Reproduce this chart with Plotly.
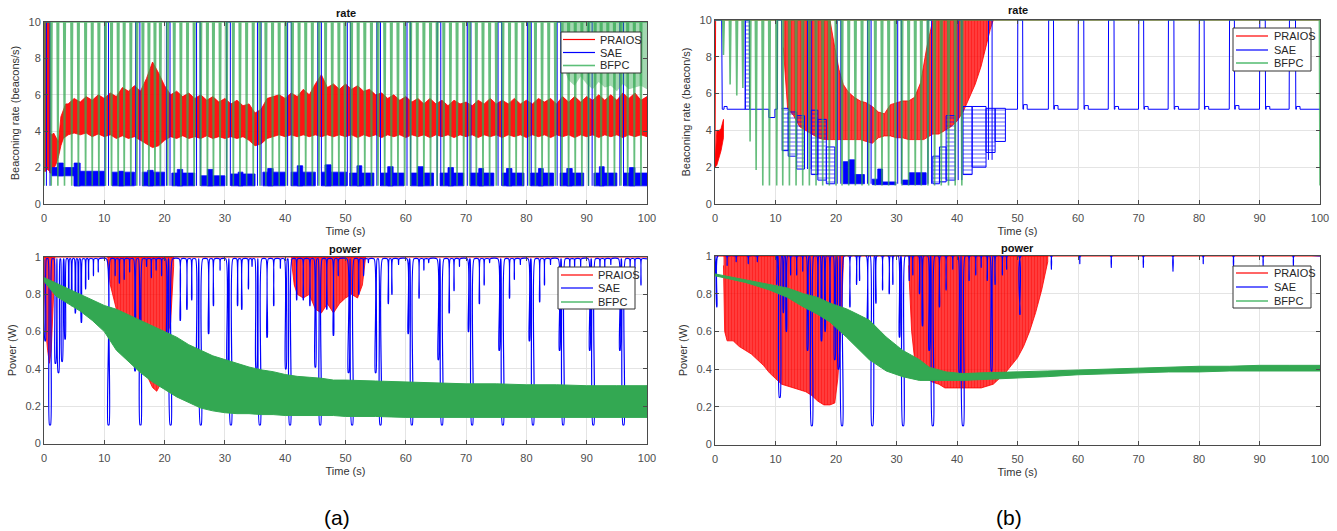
import plotly.graph_objects as go

W, H = 1337, 531
FONT = "Liberation Sans, Arial, Helvetica, sans-serif"
RED = "#ff0000"
BLUE = "#0000ff"
GREEN = "#33a852"
GREEN_LINE = "rgba(51,168,82,0.75)"

# ======================= DATA =======================
X_TICKS = [0, 10, 20, 30, 40, 50, 60, 70, 80, 90, 100]
RATE_TICKS = [0, 2, 4, 6, 8, 10]
POWER_TICKS = [0, 0.2, 0.4, 0.6, 0.8, 1]
POWER_TICK_TEXT = ["0", "0.2", "0.4", "0.6", "0.8", "1"]
SERIES = ["PRAIOS", "SAE", "BFPC"]

# ---------- (a) rate ----------
praios_ra_t = [0.0, 0.3, 0.6, 0.9, 1.0, 1.3, 1.6, 2.0, 2.4, 2.8, 3.2, 3.6] + list(range(4, 101))
praios_ra_hi = [10, 10, 10, 10, 3.9, 3.8, 3.9, 3.6, 3.4, 4.8, 5.2, 5.5,
                5.5, 5.8, 5.6, 5.9, 5.7, 6.0, 5.8, 6.1, 5.9, 6.4, 6.2, 6.5, 6.2, 6.9, 7.8, 7.2, 6.5,
                6.0, 6.2, 5.9, 6.1, 5.8, 6.0, 5.7, 5.9, 5.6, 5.8, 5.5, 5.7, 5.4, 5.5, 5.0, 5.2, 5.8,
                5.9, 6.0, 5.8, 6.1, 5.9, 6.3, 6.0, 6.6, 7.1, 6.4, 6.6, 6.3, 6.6, 6.3, 6.5, 6.2, 6.3,
                6.0, 6.1, 5.8, 6.0, 5.7, 5.9, 5.6, 5.8, 5.5, 5.8, 5.5, 5.7, 5.4, 5.7, 5.5, 5.6, 5.4,
                5.7, 5.5, 5.8, 5.5, 5.7, 5.5, 5.8, 5.5, 5.7, 5.5, 5.8, 5.6, 5.8, 5.5, 5.9, 5.6, 5.9,
                5.6, 5.9, 5.7, 6.0, 5.7, 6.0, 5.7, 6.1, 5.8, 6.1, 5.7, 5.9]
praios_ra_lo = [1.8, 1.8, 1.9, 1.8, 1.7, 1.7, 1.9, 2.2, 2.6, 3.2, 3.6, 3.7,
                3.8, 3.9, 3.8, 3.9, 3.7, 3.85, 3.7, 3.8, 3.6, 3.75, 3.6, 3.7, 3.5, 3.3, 3.1, 3.2, 3.5,
                3.7, 3.6, 3.75, 3.6, 3.7, 3.6, 3.75, 3.6, 3.7, 3.6, 3.7, 3.6, 3.7, 3.5, 3.2, 3.3, 3.6,
                3.7, 3.8, 3.7, 3.8, 3.7, 3.8, 3.7, 3.8, 3.7, 3.8, 3.7, 3.8, 3.7, 3.8, 3.65, 3.8, 3.7,
                3.8, 3.65, 3.8, 3.7, 3.8, 3.65, 3.8, 3.7, 3.8, 3.65, 3.8, 3.7, 3.8, 3.65, 3.8, 3.7, 3.8,
                3.65, 3.8, 3.7, 3.8, 3.65, 3.8, 3.7, 3.8, 3.65, 3.8, 3.7, 3.8, 3.65, 3.8, 3.7, 3.8,
                3.65, 3.8, 3.7, 3.8, 3.65, 3.8, 3.7, 3.8, 3.65, 3.8, 3.7, 3.8, 3.7]

sae_ra_blk_t0 = [1.3, 5.0, 11.3, 16.3, 21.2, 26.0, 31.0, 36.3, 41.0, 46.0, 50.7, 55.8, 60.8, 65.7, 70.7, 76.0, 80.7, 85.6, 91.2, 96.1]
sae_ra_blk_t1 = [5.0, 10.0, 15.0, 20.0, 25.0, 30.0, 35.0, 40.0, 45.0, 50.2, 54.7, 59.7, 64.6, 69.6, 74.6, 79.6, 84.5, 89.5, 95.0, 100.0]
sae_ra_blk_lo = [1.55, 1.0, 1.0, 1.0, 1.0, 1.0, 1.0, 1.0, 1.0, 1.0, 1.0, 1.0, 1.0, 1.0, 1.0, 1.0, 1.0, 1.0, 1.0, 1.0]
sae_ra_blk_hi = [2.0, 1.8, 1.75, 1.75, 1.7, 1.55, 1.65, 1.75, 1.75, 1.75, 1.7, 1.7, 1.7, 1.7, 1.7, 1.7, 1.7, 1.7, 1.7, 1.7]
sae_ra_bump_t0 = [2.2, 5.0, 12.4, 17.2, 22.1, 27.1, 32.2, 37.1, 42.0, 46.6, 51.9, 57.0, 62.0, 67.0, 72.1, 76.7, 82.0, 86.7, 92.1, 97.1]
sae_ra_bump_t1 = [3.2, 6.0, 13.2, 18.1, 23.0, 28.0, 33.0, 38.0, 42.9, 47.6, 52.7, 57.9, 62.9, 67.9, 72.9, 77.6, 82.8, 87.6, 92.9, 98.0]
sae_ra_bump_lo = [1.55, 1.0, 1.0, 1.0, 1.0, 1.0, 1.0, 1.0, 1.0, 1.0, 1.0, 1.0, 1.0, 1.0, 1.0, 1.0, 1.0, 1.0, 1.0, 1.0]
sae_ra_bump_hi = [2.25, 2.25, 1.8, 1.85, 1.9, 1.9, 1.75, 1.95, 2.1, 2.15, 2.1, 2.05, 2.05, 2.0, 1.95, 1.95, 1.95, 1.95, 2.05, 2.0]
sae_ra_spike_t0 = [0.4, 10.1, 15.2, 20.3, 25.3, 30.3, 35.4, 40.4, 45.4, 50.3, 55.2, 60.2, 65.2, 70.2, 75.3, 80.2, 85.1, 90.3, 95.5]
sae_ra_spike_t1 = [1.0, 10.7, 15.9, 20.9, 25.9, 30.9, 36.0, 41.0, 46.0, 50.8, 55.8, 60.8, 65.8, 70.8, 75.9, 80.8, 85.7, 90.9, 96.1]

bfpc_ra_dip_t = [0.0, 1.2, 2.3, 3.4, 4.6, 5.7, 6.9, 8.0, 9.1, 10.2, 11.2, 12.3, 13.3, 14.4, 15.4, 16.4, 17.4,
                 18.4, 19.3, 20.5, 21.6, 22.7, 23.8, 24.9, 26.0, 27.1, 28.1, 29.2, 30.3, 31.4, 32.5, 33.6,
                 34.7, 35.8, 36.8, 37.9, 39.0, 40.1, 41.2, 42.3, 43.4, 44.5, 45.6, 46.7, 47.8, 48.9, 49.9,
                 51.0, 52.1, 53.2, 54.3, 55.4, 56.5, 57.6, 58.7, 59.8, 60.8, 61.9, 63.0, 64.1, 65.2, 66.3,
                 67.4, 68.5, 69.6, 70.6, 71.7, 72.8, 73.9, 75.0, 76.1, 77.2, 78.3, 79.4, 80.5, 81.5, 82.6,
                 83.7, 84.8, 85.9, 87.0, 88.1, 89.2, 90.3, 91.4, 92.4, 93.5, 94.6, 95.7, 96.8, 97.9, 99.0]
bfpc_ra_dip_v = [1.0] * len(bfpc_ra_dip_t)
bfpc_ra_band_t = [86, 87, 88, 89, 90, 91, 92, 93, 94, 95, 96, 97, 98, 99, 100]
bfpc_ra_band_lo = [7.6, 6.8, 6.5, 7.0, 6.6, 6.3, 6.7, 6.4, 6.5, 6.2, 6.6, 6.3, 6.4, 6.5, 6.3]

# ---------- (a) power ----------
praios_pa_r1_t = [0.0, 0.3, 0.6, 0.9, 1.2, 1.5, 1.8]
praios_pa_r1_lo = [0.9, 0.6, 0.5, 0.43, 0.5, 0.7, 0.95]
praios_pa_r2_t = [10.5, 11, 12, 13, 14, 15, 16, 17, 18, 18.7, 19.5, 20, 20.5, 21, 21.5]
praios_pa_r2_lo = [0.99, 0.85, 0.72, 0.62, 0.55, 0.48, 0.42, 0.37, 0.3, 0.28, 0.33, 0.5, 0.58, 0.65, 0.95]
praios_pa_r3_t = [41, 41.5, 42, 43, 44, 45, 46, 47, 48, 49, 50, 51, 52, 52.8, 53.3]
praios_pa_r3_lo = [0.99, 0.85, 0.8, 0.78, 0.8, 0.72, 0.7, 0.75, 0.7, 0.75, 0.78, 0.8, 0.78, 0.85, 0.99]

sae_pa_dip_t = [0.2, 1.0, 1.9, 2.4, 3.0, 3.5, 4.1, 4.6, 5.2, 5.7, 6.2, 6.9, 7.4, 8.2, 9.0, 10.7, 11.8, 12.5,
                13.3, 14.2, 15.1, 16.0, 17.0, 17.8, 18.6, 19.5, 20.4, 21.0, 22.6, 23.7, 24.5, 25.4, 26.0,
                27.3, 28.1, 29.2, 30.4, 31.0, 32.1, 32.8, 33.9, 34.5, 35.2, 35.8, 37.0, 38.1, 39.2, 40.1,
                40.8, 41.9, 43.0, 44.1, 45.0, 45.8, 46.9, 48.0, 48.8, 50.5, 51.1, 52.2, 53.0, 53.8, 55.0,
                55.8, 57.1, 57.7, 58.8, 60.4, 61.0, 62.2, 63.0, 63.8, 65.4, 66.0, 67.2, 68.0, 68.9, 70.4,
                71.0, 72.2, 73.0, 73.9, 75.5, 76.1, 77.2, 78.0, 79.0, 80.5, 81.1, 82.2, 83.0, 84.0, 85.5,
                86.1, 87.2, 88.0, 89.0, 90.5, 91.1, 92.2, 93.0, 94.0, 95.5, 96.1, 97.2, 98.0, 99.0]
sae_pa_dip_v = [0.55, 0.1, 0.43, 0.38, 0.44, 0.56, 0.8, 0.74, 0.7, 0.75, 0.65, 0.83, 0.88, 0.9, 0.92, 0.1, 0.9, 0.86,
                0.88, 0.92, 0.39, 0.1, 0.95, 0.89, 0.93, 0.9, 0.45, 0.1, 0.66, 0.72, 0.77, 0.38, 0.1,
                0.59, 0.74, 0.93, 0.42, 0.1, 0.74, 0.72, 0.83, 0.95, 0.4, 0.1, 0.57, 0.74, 0.94, 0.4,
                0.1, 0.77, 0.77, 0.74, 0.41, 0.1, 0.72, 0.58, 0.9, 0.38, 0.1, 0.8, 0.9, 0.97, 0.38,
                0.1, 0.75, 0.8, 0.96, 0.59, 0.1, 0.78, 0.93, 0.97, 0.45, 0.1, 0.7, 0.82, 0.95, 0.6,
                0.1, 0.75, 0.85, 0.97, 0.5, 0.1, 0.78, 0.88, 0.96, 0.55, 0.1, 0.76, 0.85, 0.96, 0.5,
                0.1, 0.9, 0.95, 0.95, 0.5, 0.1, 0.9, 0.93, 0.96, 0.5, 0.1, 0.88, 0.94, 0.85]

bfpc_pa_t = [0, 2, 4, 6, 8, 10, 12, 14, 16, 18, 20, 22, 24, 26, 28, 30, 32, 34, 36, 38, 40, 42, 44, 46, 48,
             50, 55, 60, 65, 70, 75, 80, 85, 90, 95, 100]
bfpc_pa_hi = [0.89, 0.86, 0.83, 0.80, 0.77, 0.74, 0.72, 0.69, 0.66, 0.63, 0.60, 0.57, 0.53, 0.50, 0.47, 0.45,
              0.43, 0.41, 0.395, 0.385, 0.37, 0.36, 0.355, 0.35, 0.34, 0.34, 0.335, 0.33, 0.325, 0.32, 0.32,
              0.315, 0.315, 0.31, 0.31, 0.31]
bfpc_pa_lo = [0.87, 0.79, 0.75, 0.71, 0.66, 0.60, 0.50, 0.44, 0.38, 0.33, 0.29, 0.25, 0.22, 0.19, 0.175, 0.165,
              0.16, 0.16, 0.155, 0.155, 0.15, 0.15, 0.15, 0.15, 0.15, 0.145, 0.145, 0.14, 0.14, 0.14, 0.14,
              0.14, 0.14, 0.14, 0.14, 0.14]

# ---------- (b) rate ----------
praios_rb0_t = [0.0, 0.3, 0.7, 1.0, 1.4]
praios_rb0_lo = [2.0, 2.1, 2.5, 2.9, 3.6]
praios_rb0_hi = [2.2, 4.0, 4.0, 4.1, 4.6]
praios_rb_line_t = [0.0, 0.1, 100.0]
praios_rb_line_v = [2.0, 10.0, 10.0]
praios_rb_t = [11.3, 12, 13, 14, 15, 16, 17, 18, 19, 19.8, 20.5, 21.2, 22, 23, 24, 25, 26, 27, 28, 29, 30,
               31, 32, 33, 34, 34.5, 35, 36, 37, 38, 39, 40, 41, 42, 43, 44, 45, 45.5, 46]
praios_rb_hi = [10, 10, 10, 10, 10, 10, 10, 10, 10, 8.5, 7.3, 6.5, 6.1, 5.8, 5.6, 5.5, 5.3, 5.0, 4.9, 5.4, 5.5,
                5.6, 5.6, 5.8, 6.6, 7.5, 8.5, 10, 10, 10, 10, 10, 10, 10, 10, 10, 10, 10, 10]
praios_rb_lo = [8.5, 5.2, 4.8, 4.2, 4.0, 3.8, 3.6, 3.5, 3.5, 3.5, 3.5, 3.5, 3.5, 3.5, 3.5, 3.4, 3.3, 3.6, 3.7, 3.7, 3.6,
                3.6, 3.5, 3.5, 3.5, 3.5, 3.6, 3.8, 3.8, 4.0, 4.2, 4.5, 5.0, 5.7, 6.5, 7.5, 8.8, 9.5, 10]

sae_rb_line_t = [0.0, 1.1, 1.2, 1.5, 1.5, 2.0, 2.0, 5.0, 5.0, 5.7, 5.7, 8.9, 8.9, 9.9, 9.9, 10.3, 10.3, 11.0, 11.1]
sae_rb_line_v = [10, 10, 5.15, 5.15, 5.3, 5.3, 5.15, 5.15, 10, 10, 5.15, 5.15, 4.7, 4.7, 5.15, 5.15, 10, 10, 5.15]
sae_rb_ladder_t0 = [5.0, 11.1, 12.1, 13.5, 15.9, 17.0, 18.4, 36.0, 37.1, 38.2, 41.0, 42.5, 44.8, 46.3]
sae_rb_ladder_t1 = [5.7, 12.1, 13.5, 14.8, 17.0, 18.4, 19.8, 37.1, 38.2, 39.7, 42.5, 44.8, 46.3, 48.0]
sae_rb_ladder_lo = [5.15, 2.9, 2.6, 1.9, 1.6, 1.3, 1.1, 1.1, 1.2, 1.3, 1.6, 2.0, 2.8, 3.4]
sae_rb_ladder_hi = [10.0, 5.2, 5.0, 4.8, 5.1, 4.6, 3.1, 2.6, 3.1, 4.8, 5.3, 5.3, 5.2, 5.2]
sae_rb_solid_t0 = [21.2, 22.1, 23.1, 26.0, 26.9, 27.7, 31.0, 32.1]
sae_rb_solid_t1 = [22.1, 23.1, 24.7, 26.9, 27.7, 29.9, 32.1, 34.9]
sae_rb_solid_lo = [1.1, 1.1, 1.1, 1.05, 1.05, 1.05, 1.05, 1.05]
sae_rb_solid_hi = [2.3, 2.4, 1.6, 1.35, 1.9, 1.2, 1.3, 1.7]
sae_rb_spike_t0 = [15.3, 20.2, 25.2, 30.2, 35.2, 40.2, 45.2]
sae_rb_spike_t1 = [15.9, 20.8, 25.8, 30.8, 35.8, 40.8, 45.8]
sae_rb_spike_lo = [1.9, 1.1, 1.1, 1.1, 1.1, 1.3, 2.4]
sae_rb_pulse_t0 = [50.0, 55.1, 60.0, 65.0, 70.0, 74.9, 80.0, 85.0, 90.0, 94.9]
sae_rb_pulse_t1 = [50.9, 56.0, 61.0, 66.0, 70.9, 75.9, 80.9, 85.9, 91.0, 96.0]
sae_rb_pulse_bump = [5.4, 5.35, 5.35, 5.3, 5.3, 5.3, 5.3, 5.35, 5.3, 5.3]
sae_rb_base = 5.15

bfpc_rb_dip_t = [1.4, 2.5, 3.6, 4.6, 5.8, 6.8, 7.9, 9.0, 10.2, 11.2, 12.3, 13.4, 14.5, 15.6, 16.7, 17.8, 18.9,
                 20.0, 21.0, 22.1, 23.2, 24.3, 25.4, 26.5, 27.6, 28.7, 29.8, 30.9, 32.0, 33.1, 34.1, 35.2,
                 36.3, 37.4, 38.6, 39.7, 40.8]
bfpc_rb_dip_v = [8.1, 6.5, 5.9, 6.3, 3.4, 1.85, 1.0, 1.0, 1.0, 1.0, 1.0, 1.0, 1.0, 1.0, 1.0, 1.0, 1.0,
                 1.0, 1.0, 1.0, 1.0, 1.0, 1.0, 1.0, 1.0, 1.0, 1.0, 1.0, 1.0, 1.0, 1.0, 1.0,
                 1.0, 1.0, 1.0, 1.0, 1.0]
bfpc_rb_end_t = [99.9, 100.0]
bfpc_rb_end_v = [10.0, 1.0]

# ---------- (b) power ----------
praios_pb_r1_t = [1.4, 1.6, 2, 3, 4, 5, 6, 7, 8, 9, 10, 11, 12, 13, 14, 15, 16, 17, 18, 19, 19.8, 20.3, 20.8, 21.2]
praios_pb_r1_lo = [0.95, 0.6, 0.55, 0.55, 0.52, 0.5, 0.48, 0.45, 0.42, 0.38, 0.35, 0.32, 0.31, 0.3, 0.29, 0.28,
                   0.26, 0.23, 0.21, 0.21, 0.22, 0.35, 0.6, 0.95]
praios_pb_r2_t = [32, 32.5, 33, 34, 35, 36, 37, 38, 39, 40, 42, 44, 46, 47, 48, 49, 50, 51, 52, 53, 54, 55]
praios_pb_r2_lo = [0.95, 0.6, 0.45, 0.4, 0.35, 0.33, 0.32, 0.3, 0.3, 0.3, 0.3, 0.3, 0.32, 0.35, 0.38, 0.42, 0.46,
                   0.52, 0.6, 0.7, 0.82, 0.97]

sae_pb_dip_t = [0.3, 2.0, 3.5, 5.5, 7.0, 10.2, 10.7, 11.3, 11.8, 12.5, 13.5, 14.5, 15.3, 16.0, 17.0, 17.6, 18.2,
                19.0, 19.8, 20.4, 21.0, 22.3, 23.4, 23.9, 25.2, 26.0, 26.6, 27.7, 28.8, 29.4, 30.5, 31.1, 32.1,
                32.7, 33.8, 34.3, 35.4, 36.0, 37.1, 38.2, 39.3, 40.4, 41.0, 42.0, 43.1, 44.0, 45.0, 45.7, 46.3,
                47.5, 48.2, 50.4, 55.6, 60.3, 65.5, 70.8, 75.7, 80.7, 85.7, 90.6, 95.6]
sae_pb_dip_v = [0.73, 0.95, 0.97, 0.96, 0.97, 0.85, 0.25, 0.7, 0.6, 0.9, 0.9, 0.92, 0.5, 0.1, 0.75, 0.55, 0.6,
                0.7, 0.45, 0.4, 0.1, 0.73, 0.85, 0.87, 0.6, 0.1, 0.75, 0.82, 0.8, 0.85, 0.57, 0.1, 0.87,
                0.9, 0.8, 0.63, 0.5, 0.1, 0.73, 0.82, 0.93, 0.38, 0.1, 0.87, 0.9, 0.94, 0.87, 0.39, 0.85,
                0.9, 0.93, 0.69, 0.93, 0.96, 0.94, 0.94, 0.92, 0.96, 0.94, 0.95, 0.95]
sae_pb_start = 0.9

bfpc_pb_t = [0, 5, 9, 12, 14.6, 17, 19, 21.7, 23, 25.5, 28.3, 31, 33.8, 35.4, 38.2, 40.9, 44, 48, 55, 60, 65,
             70, 75, 80, 85, 90, 95, 100]
bfpc_pb_hi = [0.905, 0.875, 0.85, 0.83, 0.8, 0.78, 0.75, 0.72, 0.7, 0.66, 0.57, 0.5, 0.45, 0.41, 0.385, 0.376,
              0.38, 0.385, 0.39, 0.395, 0.40, 0.405, 0.41, 0.415, 0.415, 0.42, 0.42, 0.42]
bfpc_pb_lo = [0.895, 0.86, 0.82, 0.78, 0.73, 0.69, 0.65, 0.57, 0.53, 0.45, 0.39, 0.36, 0.34, 0.34, 0.34, 0.34,
              0.345, 0.35, 0.36, 0.37, 0.375, 0.38, 0.385, 0.385, 0.39, 0.39, 0.39, 0.39]


# ======================= HELPERS =======================
def band_xy(t, lo, hi):
    assert len(t) == len(lo) == len(hi), (len(t), len(lo), len(hi))
    return list(t) + list(t)[::-1], list(hi) + list(lo)[::-1]


def bands_xy(regions, top):
    xs, ys = [], []
    for t, lo in regions:
        x, y = band_xy(t, lo, [top] * len(t))
        xs += x + [None]
        ys += y + [None]
    return xs, ys


def rects_xy(t0, t1, lo, hi):
    assert len(t0) == len(t1) == len(lo) == len(hi)
    xs, ys = [], []
    for a, b, l, h in zip(t0, t1, lo, hi):
        xs += [a, b, b, a, a, None]
        ys += [l, l, h, h, l, None]
    return xs, ys


def pulses_xy(t0, t1, lo, top):
    xs, ys = [], []
    for a, b, l in zip(t0, t1, lo):
        xs += [a, a, b, b, None]
        ys += [l, top, top, l, None]
    return xs, ys


def vdips_xy(times, depths, top, half=0.13, x_end=100.0):
    assert len(times) == len(depths)
    xs, ys = [], []
    for t, d in zip(times, depths):
        xs += [t - half, t, t + half]
        ys += [top, d, top]
    xs.append(x_end)
    ys.append(top)
    return xs, ys


def udips_xy(times, depths, top, start=None, x_end=100.0):
    assert len(times) == len(depths)
    xs, ys = [0.0], [top if start is None else start]
    for t, d in zip(times, depths):
        w = 0.08 + 0.28 * (1 - d)
        b = 0.1 * (1 - d)
        xs += [t - w, t - b, t + b, t + w]
        ys += [top, d, d, top]
    xs.append(x_end)
    ys.append(top)
    return xs, ys


fig = go.Figure()


def add(x, y, xa, ya, **kw):
    fig.add_trace(go.Scatter(x=x, y=y, xaxis=xa, yaxis=ya, mode="lines",
                             showlegend=False, hoverinfo="skip", **kw))


RED_PATTERN = dict(shape="|", fgcolor=RED, bgcolor="rgba(255,0,0,0.72)", size=3, solidity=0.55)

# ---------- (a) rate ----------
x, y = band_xy(praios_ra_t, praios_ra_lo, praios_ra_hi)
add(x, y, "x", "y", fill="toself", fillcolor="rgba(255,0,0,0.92)", line=dict(color=RED, width=0.8))
x, y = rects_xy(sae_ra_blk_t0, sae_ra_blk_t1, sae_ra_blk_lo, sae_ra_blk_hi)
add(x, y, "x", "y", fill="toself", fillcolor=BLUE, line=dict(color=BLUE, width=0.8))
x, y = rects_xy(sae_ra_bump_t0, sae_ra_bump_t1, sae_ra_bump_lo, sae_ra_bump_hi)
add(x, y, "x", "y", fill="toself", fillcolor=BLUE, line=dict(color=BLUE, width=0.8))
x, y = pulses_xy(sae_ra_spike_t0, sae_ra_spike_t1, [1.0] * len(sae_ra_spike_t0), 10)
add(x, y, "x", "y", line=dict(color=BLUE, width=1))
x, y = band_xy(bfpc_ra_band_t, bfpc_ra_band_lo, [10] * len(bfpc_ra_band_t))
add(x, y, "x", "y", fill="toself", fillcolor="rgba(51,168,82,0.45)", line=dict(width=0))
x, y = vdips_xy(bfpc_ra_dip_t, bfpc_ra_dip_v, 10)
add(x, y, "x", "y", line=dict(color=GREEN_LINE, width=1.6))

# ---------- (b) rate ----------
x, y = band_xy(praios_rb0_t, praios_rb0_lo, praios_rb0_hi)
add(x, y, "x2", "y2", fill="toself", fillcolor=RED, line=dict(color=RED, width=0.8))
add(praios_rb_line_t, praios_rb_line_v, "x2", "y2", line=dict(color=RED, width=1))
x, y = band_xy(praios_rb_t, praios_rb_lo, praios_rb_hi)
add(x, y, "x2", "y2", fill="toself", fillpattern=RED_PATTERN, line=dict(color=RED, width=0.8))
add(sae_rb_line_t, sae_rb_line_v, "x2", "y2", line=dict(color=BLUE, width=1))
x, y = rects_xy(sae_rb_ladder_t0, sae_rb_ladder_t1, sae_rb_ladder_lo, sae_rb_ladder_hi)
add(x, y, "x2", "y2", fill="toself", fillcolor="rgba(0,0,255,0.04)",
    fillpattern=dict(shape="-", fgcolor=BLUE, bgcolor="rgba(0,0,0,0)", size=4, solidity=0.3),
    line=dict(color=BLUE, width=1))
x, y = rects_xy(sae_rb_solid_t0, sae_rb_solid_t1, sae_rb_solid_lo, sae_rb_solid_hi)
add(x, y, "x2", "y2", fill="toself", fillcolor=BLUE, line=dict(color=BLUE, width=0.8))
x, y = pulses_xy(sae_rb_spike_t0, sae_rb_spike_t1, sae_rb_spike_lo, 10)
add(x, y, "x2", "y2", line=dict(color=BLUE, width=1))
px_, py_ = [48.0], [sae_rb_base]
for a, b, bump in zip(sae_rb_pulse_t0, sae_rb_pulse_t1, sae_rb_pulse_bump):
    px_ += [a, a + 0.05, b - 0.05, b, b + 0.1, b + 0.1, b + 0.7, b + 0.7]
    py_ += [sae_rb_base, 10, 10, sae_rb_base, sae_rb_base, bump, bump, sae_rb_base]
px_.append(100.0)
py_.append(sae_rb_base)
add(px_, py_, "x2", "y2", line=dict(color=BLUE, width=1))
x, y = vdips_xy(bfpc_rb_dip_t, bfpc_rb_dip_v, 10, x_end=bfpc_rb_end_t[0])
x += bfpc_rb_end_t[1:]
y += bfpc_rb_end_v[1:]
add([0.0] + x, [10.0] + y, "x2", "y2", line=dict(color=GREEN_LINE, width=1.6))

# ---------- (a) power ----------
x, y = bands_xy([(praios_pa_r1_t, praios_pa_r1_lo), (praios_pa_r2_t, praios_pa_r2_lo),
                 (praios_pa_r3_t, praios_pa_r3_lo)], 1.0)
add(x, y, "x3", "y3", fill="toself", fillpattern=RED_PATTERN, line=dict(color=RED, width=0.8))
add([0, 100], [1.0, 1.0], "x3", "y3", line=dict(color=RED, width=1.2))
x, y = udips_xy(sae_pa_dip_t, sae_pa_dip_v, 0.99)
add(x, y, "x3", "y3", line=dict(color=BLUE, width=1.2, shape="spline", smoothing=0.6))
x, y = band_xy(bfpc_pa_t, bfpc_pa_lo, bfpc_pa_hi)
add(x, y, "x3", "y3", fill="toself", fillcolor=GREEN, line=dict(color=GREEN, width=1))

# ---------- (b) power ----------
x, y = bands_xy([(praios_pb_r1_t, praios_pb_r1_lo), (praios_pb_r2_t, praios_pb_r2_lo)], 1.0)
add(x, y, "x4", "y4", fill="toself", fillpattern=RED_PATTERN, line=dict(color=RED, width=0.8))
add([0, 100], [1.0, 1.0], "x4", "y4", line=dict(color=RED, width=1.2))
x, y = udips_xy(sae_pb_dip_t, sae_pb_dip_v, 1.0, start=sae_pb_start)
add(x, y, "x4", "y4", line=dict(color=BLUE, width=1.2, shape="spline", smoothing=0.6))
x, y = band_xy(bfpc_pb_t, bfpc_pb_lo, bfpc_pb_hi)
add(x, y, "x4", "y4", fill="toself", fillcolor=GREEN, line=dict(color=GREEN, width=1))


# ======================= LAYOUT =======================
def px_x(p):
    return p / W


def px_y(p):
    return 1 - p / H


AX_COLOR = "#4a4a4a"
TICK_FONT = dict(family=FONT, size=11, color="#4d4d4d")
LABEL_FONT = dict(family=FONT, size=11, color="#333333")


def xaxis(domain, anchor):
    return dict(domain=domain, anchor=anchor, range=[0, 100], tickvals=X_TICKS, automargin=False,
                showgrid=True, gridcolor="#e4e4e4", gridwidth=1, zeroline=False,
                showline=True, linecolor=AX_COLOR, linewidth=1, mirror="ticks",
                ticks="inside", ticklen=4, tickcolor=AX_COLOR, tickfont=TICK_FONT,
                ticklabelstandoff=4,
                title=dict(text="Time (s)", font=LABEL_FONT, standoff=4))


def yaxis(domain, anchor, ticks, ticktext, title, rng):
    return dict(domain=domain, anchor=anchor, range=rng, tickvals=ticks, ticktext=ticktext, automargin=False,
                showgrid=True, gridcolor="#e4e4e4", gridwidth=1, zeroline=False,
                showline=True, linecolor=AX_COLOR, linewidth=1, mirror="ticks",
                ticks="inside", ticklen=4, tickcolor=AX_COLOR, tickfont=TICK_FONT,
                title=dict(text=title, font=LABEL_FONT, standoff=6))


XA = [px_x(44), px_x(647)]
XB = [px_x(715), px_x(1320)]
YA_R = [px_y(204), px_y(22)]
YB_R = [px_y(204), px_y(20)]
YA_P = [px_y(443.5), px_y(257)]
YB_P = [px_y(444.5), px_y(256)]

fig.update_layout(
    width=W, height=H, autosize=False,
    margin=dict(l=0, r=0, t=0, b=0, autoexpand=False),
    paper_bgcolor="white", plot_bgcolor="white",
    showlegend=False,
    font=dict(family=FONT),
    xaxis=xaxis(XA, "y"),
    yaxis=yaxis(YA_R, "x", RATE_TICKS, [str(v) for v in RATE_TICKS], "Beaconing rate (beacons/s)", [0, 10]),
    xaxis2=xaxis(XB, "y2"),
    yaxis2=yaxis(YB_R, "x2", RATE_TICKS, [str(v) for v in RATE_TICKS], "Beaconing rate (beacon/s)", [0, 10]),
    xaxis3=xaxis(XA, "y3"),
    yaxis3=yaxis(YA_P, "x3", POWER_TICKS, POWER_TICK_TEXT, "Power (W)", [0, 1]),
    xaxis4=xaxis(XB, "y4"),
    yaxis4=yaxis(YB_P, "x4", POWER_TICKS, POWER_TICK_TEXT, "Power (W)", [0, 1]),
)

annotations = []
shapes = []

# subplot titles
for text, cx, cy in [("rate", 345.5, 12.5), ("rate", 1017.5, 10), ("power", 345.5, 248.5), ("power", 1017.5, 247.5)]:
    annotations.append(dict(text="<b>%s</b>" % text, x=px_x(cx), y=px_y(cy), xref="paper", yref="paper",
                            showarrow=False, xanchor="center", yanchor="middle",
                            font=dict(family=FONT, size=11, color="#111111")))

# panel labels
for text, cx in [("(a)", 337), ("(b)", 1009)]:
    annotations.append(dict(text=text, x=px_x(cx), y=px_y(517), xref="paper", yref="paper",
                            showarrow=False, xanchor="center", yanchor="middle",
                            font=dict(family=FONT, size=21, color="#000000")))

# legends (one per panel)
LEG_COLORS = [RED, BLUE, "#5cbf78"]
LEG_WIDTHS = [1.2, 1.2, 1.6]
legends = [
    (561, 32, 641, 73, [39.5, 52.5, 65.5], 563, 595, 598),
    (1233, 28, 1311, 71, [36, 50, 63], 1236, 1268, 1272),
    (558, 267, 635, 309, [275, 288, 302], 561, 593, 596),
    (1233, 266, 1311, 308, [273, 287, 301], 1236, 1268, 1272),
]
for (x0, y0, x1, y1, rows, lx0, lx1, tx) in legends:
    shapes.append(dict(type="rect", xref="paper", yref="paper", x0=px_x(x0), x1=px_x(x1),
                       y0=px_y(y1), y1=px_y(y0), fillcolor="white",
                       line=dict(color="#333333", width=1), layer="above"))
    for name, ry, col, lw in zip(SERIES, rows, LEG_COLORS, LEG_WIDTHS):
        shapes.append(dict(type="line", xref="paper", yref="paper", x0=px_x(lx0), x1=px_x(lx1),
                           y0=px_y(ry), y1=px_y(ry), line=dict(color=col, width=lw), layer="above"))
        annotations.append(dict(text=name, x=px_x(tx), y=px_y(ry), xref="paper", yref="paper",
                                showarrow=False, xanchor="left", yanchor="middle",
                                font=dict(family=FONT, size=11, color="#262626")))

fig.update_layout(annotations=annotations, shapes=shapes)

fig.write_html("out.html", config={"displayModeBar": False},
               post_script="document.body.style.margin='0px';document.body.style.overflow='hidden';")
